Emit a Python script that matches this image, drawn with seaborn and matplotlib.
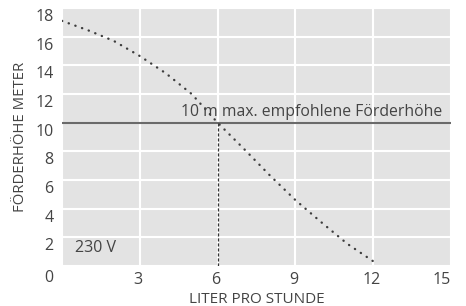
import matplotlib
matplotlib.use("Agg")
import matplotlib.pyplot as plt
from matplotlib.transforms import ScaledTranslation
import seaborn as sns
import pandas as pd

# data
flow = [0, 1, 2, 3, 4, 5, 6, 7, 8, 9, 10, 11, 12, 12.1]
head = [17.1, 16.45, 15.7, 14.65, 13.45, 12.0, 10.0, 8.2, 6.35, 4.6, 3.05, 1.55, 0.33, 0.23]
x_ticks = [0, 3, 6, 9, 12, 15]
y_ticks = [0, 2, 4, 6, 8, 10, 12, 14, 16, 18]
recommended_head = 10
flow_at_recommended = 6
line_label = "10 m max. empfohlene Förderhöhe"
voltage_label = "230 V"
x_label = "LITER PRO STUNDE"
y_label = "FÖRDERHÖHE METER"

df = pd.DataFrame({"flow": flow, "head": head})

sns.set_style("whitegrid", {
    "axes.facecolor": "#e3e3e3",
    "grid.color": "white",
    "axes.edgecolor": "#e3e3e3",
})
plt.rcParams["font.family"] = ["Open Sans", "DejaVu Sans"]

text_color = "#444444"

fig = plt.figure(figsize=(4.66, 3.06), dpi=100)
ax = fig.add_axes([62 / 466, 40 / 306, 389 / 466, 258 / 306])

ax.grid(True, color="white", linewidth=1.5)
ax.set_axisbelow(True)
for s in ax.spines.values():
    s.set_visible(False)

ax.axhline(recommended_head, color="#6a6a6a", linewidth=1.5, zorder=2)
ax.vlines(flow_at_recommended, 0, recommended_head, colors="#333333",
          linewidth=0.9, linestyles=(0, (2.5, 1.5)), zorder=2)

sns.lineplot(data=df, x="flow", y="head", ax=ax, color="#3d3d3d",
             linewidth=1.7, linestyle=(0, (0.1, 2.9)), zorder=3)
for ln in ax.get_lines():
    ln.set_dash_capstyle("round")

ax.set_xlim(0, 15)
ax.set_ylim(0, 18)
ax.set_xticks(x_ticks)
ax.set_yticks(y_ticks)
ax.set_xticklabels(["" if t == 0 else str(t) for t in x_ticks])
ax.set_yticklabels([str(t) for t in y_ticks])
ax.tick_params(axis="both", length=0, labelsize=11.5, labelcolor=text_color)
ax.tick_params(axis="x", pad=4)
ax.tick_params(axis="y", pad=6)

# shift tick labels as in the reference
for t, lab in zip(y_ticks, ax.get_yticklabels()):
    dy = 10 if t == 0 else 7
    lab.set_transform(lab.get_transform() + ScaledTranslation(0, -dy / 100, fig.dpi_scale_trans))
for t, lab in zip(x_ticks, ax.get_xticklabels()):
    dx = 9 if t == 15 else 2
    lab.set_transform(lab.get_transform() + ScaledTranslation(-dx / 100, 0, fig.dpi_scale_trans))

ax.set_xlabel(x_label, fontsize=11, color=text_color, labelpad=3)
ax.set_ylabel(y_label, fontsize=10.7, color=text_color, labelpad=5)

ax.text(4.58, 10.5, line_label, fontsize=11.3, color=text_color, va="baseline", ha="left", zorder=4)
ax.text(0.52, 1.29, voltage_label, fontsize=11.5, color=text_color, va="center", ha="left")

fig.savefig("out.png", dpi=100)
